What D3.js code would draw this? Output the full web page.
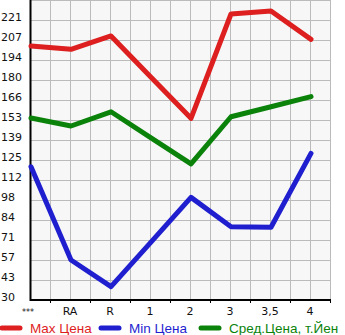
<!DOCTYPE html>
<html>
<head>
<meta charset="utf-8">
<script src="https://cdn.jsdelivr.net/npm/d3@7"></script>
<style>
  body { margin: 0; background: #fff; }
  text { font-family: "DejaVu Sans", sans-serif; }
  text.legend { font-family: "Liberation Sans", Arial, sans-serif; }
</style>
</head>
<body>
<script>
const categories = ["***", "RA", "R", "1", "2", "3", "3,5", "4"]
const maxPrice = [203.3, 201.0, 210.1, 182.0, 153.9, 225.1, 227.1, 207.8]
const minPrice = [120.9, 57.3, 39.1, 69.5, 100.0, 80.0, 79.6, 130.0]
const avgPrice = [154.1, 148.7, 158.4, 140.6, 122.8, 155.0, 161.8, 168.7]
const yTickLabels = ["30", "43", "57", "71", "84", "98", "112", "125", "139", "153", "166", "180", "194", "207", "221"]
const yMin = 30, yMax = 221

const width = 345, height = 335
const plotLeft = 31, plotRight = 331, plotTop = 0, plotBottom = 300

const svg = d3.select("body").append("svg")
    .attr("width", width)
    .attr("height", height)

const x = d3.scaleBand().domain(categories).range([plotLeft - 20, plotRight])
const cx = d => x(d) + x.bandwidth() / 2
const y = d3.scaleLinear().domain([yMin, yMax]).range([plotBottom, 20])
const step = (yMax - yMin) / (yTickLabels.length - 1)
const yTicks = yTickLabels.map((l, i) => yMin + i * step)

svg.append("rect")
    .attr("x", plotLeft).attr("y", plotTop)
    .attr("width", plotRight - plotLeft).attr("height", plotBottom - plotTop)
    .attr("fill", "#f7f7f7")

// grid
const grid = svg.append("g").attr("stroke", "#bbb").attr("stroke-width", 1)
grid.selectAll(".h")
    .data(yTicks.concat([yMin + yTickLabels.length * step]))
    .enter().append("line")
    .attr("x1", plotLeft).attr("x2", plotRight)
    .attr("y1", d => Math.round(y(d)) + 0.5).attr("y2", d => Math.round(y(d)) + 0.5)
const vx = []
categories.forEach(c => { vx.push(cx(c)); vx.push(cx(c) + x.bandwidth() / 2) })
grid.selectAll(".v")
    .data(vx)
    .enter().append("line")
    .attr("x1", d => d - 0.5).attr("x2", d => d - 0.5)
    .attr("y1", plotTop).attr("y2", plotBottom)

// y labels
svg.append("g").selectAll("text")
    .data(yTicks)
    .enter().append("text")
    .attr("x", 1)
    .attr("y", d => y(d) + 1)
    .attr("font-size", 11)
    .attr("fill", "#111")
    .text((d, i) => yTickLabels[i])

// x labels and ticks
svg.append("g").selectAll("text")
    .data(categories)
    .enter().append("text")
    .attr("x", (d, i) => i === 0 ? cx(d) - 3 : cx(d) - 1)
    .attr("y", 315)
    .attr("text-anchor", "middle")
    .attr("font-size", d => d === "***" ? 8 : 11)
    .attr("fill", "#111")
    .text(d => d)
svg.append("g").selectAll("line")
    .data(categories)
    .enter().append("line")
    .attr("x1", d => cx(d) + x.bandwidth() / 2 - 0.5)
    .attr("x2", d => cx(d) + x.bandwidth() / 2 - 0.5)
    .attr("y1", plotBottom).attr("y2", plotBottom + 3)
    .attr("stroke", "#000")

// axes
svg.append("line").attr("x1", plotLeft - 0.5).attr("x2", plotLeft - 0.5)
    .attr("y1", plotTop).attr("y2", plotBottom + 1)
    .attr("stroke", "#000").attr("stroke-width", 2)
svg.append("line").attr("x1", plotLeft - 1).attr("x2", plotRight)
    .attr("y1", plotBottom).attr("y2", plotBottom)
    .attr("stroke", "#000").attr("stroke-width", 2)

const series = [
    { name: "Max Цена", values: maxPrice, color: "#dd1f1f", lx: 0 },
    { name: "Min Цена", values: minPrice, color: "#1f1fd0", lx: 99 },
    { name: "Сред.Цена, т.Йен", values: avgPrice, color: "#0b830b", lx: 199 }
]

const line = d3.line().x((d, i) => cx(categories[i])).y(d => y(d))

series.forEach(s => {
    svg.append("path")
        .attr("d", line(s.values))
        .attr("fill", "none")
        .attr("stroke", s.color)
        .attr("stroke-width", 5)
        .attr("stroke-linejoin", "round")
        .attr("stroke-linecap", "round")
    svg.append("line")
        .attr("x1", s.lx + 2).attr("x2", s.lx + 20)
        .attr("y1", 328).attr("y2", 328)
        .attr("stroke", s.color).attr("stroke-width", 5)
        .attr("stroke-linecap", "round")
    svg.append("text")
        .attr("class", "legend")
        .attr("x", s.lx + 30).attr("y", 333)
        .attr("font-size", 13.5)
        .attr("fill", s.color)
        .text(s.name)
})
</script>
</body>
</html>
